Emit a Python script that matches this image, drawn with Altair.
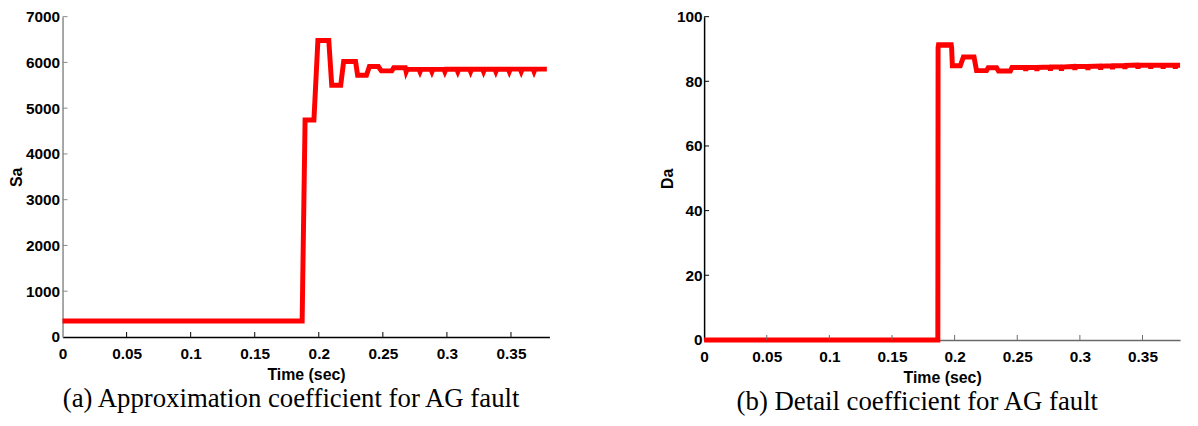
import altair as alt
import pandas as pd

# ---------------- data ----------------
# (a) Approximation coefficient Sa
sa_t = [0.0, 0.1870, 0.1893, 0.1962, 0.1993, 0.2078, 0.2101, 0.2171, 0.2194,
        0.2287, 0.2303, 0.2372, 0.2395, 0.2465, 0.2488, 0.2570, 0.2585, 0.2675,
        0.2682, 0.2690, 0.2782, 0.2790, 0.2798, 0.2875, 0.2883, 0.2891, 0.2976,
        0.2984, 0.2992, 0.3077, 0.3085, 0.3093, 0.3177, 0.3185, 0.3193, 0.3278,
        0.3286, 0.3294, 0.3374, 0.3382, 0.3390, 0.3479, 0.3487, 0.3495, 0.3572,
        0.3580, 0.3588, 0.3672, 0.3680, 0.3688, 0.3780]
sa_v = [350, 350, 4740, 4740, 6480, 6480, 5500, 5500, 6020,
        6020, 5720, 5720, 5910, 5910, 5815, 5815, 5885, 5885,
        5795, 5848, 5848, 5795, 5848, 5848, 5795, 5848, 5850,
        5795, 5850, 5850, 5795, 5850, 5852, 5797, 5852, 5852,
        5797, 5852, 5852, 5797, 5852, 5853, 5798, 5853, 5853,
        5798, 5853, 5853, 5798, 5853, 5853]

# (b) Detail coefficient Da
da_t = [0.0, 0.1866, 0.1868, 0.1874, 0.1880, 0.1886, 0.1892, 0.1898, 0.1904,
        0.1910, 0.1916, 0.1922, 0.1928, 0.1934, 0.1940, 0.1946, 0.1952, 0.1958,
        0.1964, 0.1970, 0.1976, 0.1982, 0.2045, 0.2070, 0.2155, 0.2175, 0.2255,
        0.2268, 0.2335, 0.2350, 0.2445, 0.2458, 0.2562, 0.2568, 0.2574, 0.2651,
        0.2657, 0.2663, 0.2759, 0.2765, 0.2771, 0.2847, 0.2853, 0.2859, 0.2954,
        0.2960, 0.2966, 0.3058, 0.3064, 0.3070, 0.3160, 0.3166, 0.3172, 0.3254,
        0.3260, 0.3266, 0.3354, 0.3360, 0.3366, 0.3458, 0.3464, 0.3470, 0.3560,
        0.3566, 0.3572, 0.3659, 0.3665, 0.3671, 0.3756, 0.3762, 0.3768, 0.3800]
da_v = [0.0, 0.0, 90.5, 92.0, 90.5, 92.0, 90.5, 92.0, 90.5,
        92.0, 90.5, 92.0, 90.5, 92.0, 90.5, 92.0, 90.5, 92.0,
        90.5, 92.0, 90.5, 84.8, 84.8, 87.5, 87.5, 83.3, 83.3,
        84.2, 84.2, 83.2, 83.2, 84.3, 84.3, 83.3, 84.3, 84.3,
        83.3, 84.3, 84.4, 83.4, 84.4, 84.4, 83.4, 84.4, 84.6,
        83.6, 84.6, 84.6, 83.6, 84.6, 84.7, 83.7, 84.7, 84.8,
        83.8, 84.8, 84.9, 83.9, 84.9, 85.0, 84.0, 85.0, 85.0,
        84.0, 85.0, 85.0, 84.0, 85.0, 85.0, 84.0, 85.0, 85.0]

x_ticks = [0, 0.05, 0.1, 0.15, 0.2, 0.25, 0.3, 0.35]
sa_ticks = [0, 1000, 2000, 3000, 4000, 5000, 6000, 7000]
da_ticks = [0, 20, 40, 60, 80, 100]

x_title = "Time (sec)"
cap_a = "(a) Approximation coefficient for AG fault"
cap_b = "(b) Detail coefficient for AG fault"

FONT = "Liberation Sans, Arial, sans-serif"
SERIF = "Liberation Serif, Times New Roman, serif"


def panel(t, v, yticks, ydom, ytitle, W, H, xcol, ycol, caption, cap_dx, cap_off,
          ylabpad, ytitlepad):
    df = pd.DataFrame({"t": t, "v": v})
    xs = alt.Scale(domain=[0, 0.38], nice=False, zero=False)
    ys = alt.Scale(domain=ydom, nice=False)
    xax = alt.Axis(values=x_ticks, labelExpr="toString(datum.value)",
                   ticks=False, tickSize=0, grid=False,
                   domainColor=xcol, domainWidth=1.5,
                   labelFont=FONT, labelFontSize=15.5, labelFontWeight="bold",
                   labelColor="black", labelPadding=10, labelFlush=False,
                   titleFont=FONT, titleFontSize=16, titleFontWeight="bold",
                   titleColor="black", titlePadding=4)
    yax = alt.Axis(values=yticks, format="d",
                   ticks=False, tickSize=0, grid=False,
                   domainColor=ycol, domainWidth=1.5,
                   labelFont=FONT, labelFontSize=15.5, labelFontWeight="bold",
                   labelColor="black", labelPadding=ylabpad, labelFlush=False,
                   titleFont=FONT, titleFontSize=16, titleFontWeight="bold",
                   titleColor="black", titlePadding=ytitlepad)
    line = alt.Chart(df).mark_line(color="#ff0000", strokeWidth=5).encode(
        x=alt.X("t:Q", scale=xs, title=x_title, axis=xax),
        y=alt.Y("v:Q", scale=ys, title=ytitle, axis=yax),
    )
    xt = pd.DataFrame({"t": x_ticks[1:]})
    xtick = alt.Chart(xt).mark_rule(color=xcol, strokeWidth=1).encode(
        x=alt.X("t:Q", scale=xs, title=x_title, axis=xax),
        y=alt.value(H), y2=alt.value(H - 5))
    yt = pd.DataFrame({"v": yticks[1:]})
    ytick = alt.Chart(yt).mark_rule(color=ycol, strokeWidth=1).encode(
        y=alt.Y("v:Q", scale=ys, title=ytitle, axis=yax),
        x=alt.value(0), x2=alt.value(5))
    return alt.layer(line, xtick, ytick).properties(
        width=W, height=H,
        title=alt.TitleParams(caption, orient="bottom", anchor="middle", font=SERIF,
                              fontSize=27, fontWeight="normal", color="black",
                              dx=cap_dx, offset=cap_off))


left = panel(sa_t, sa_v, sa_ticks, [0, 7000], "Sa", 491, 323,
             "#000000", "#8a8a8a", cap_a, -15, 4, 3, 1)
right = panel(da_t, da_v, da_ticks, [0, 100], "Da", 480, 326,
              "#6a6a6a", "#000000", cap_b, -25, 4, 2, 1)

chart = alt.hconcat(left, right, spacing=103).properties(
    padding={"left": 0, "top": 0, "right": 0, "bottom": 0}
).configure(background="white").configure_view(strokeWidth=0)

chart.save("out.html", embed_options={"renderer": "svg", "actions": False})
